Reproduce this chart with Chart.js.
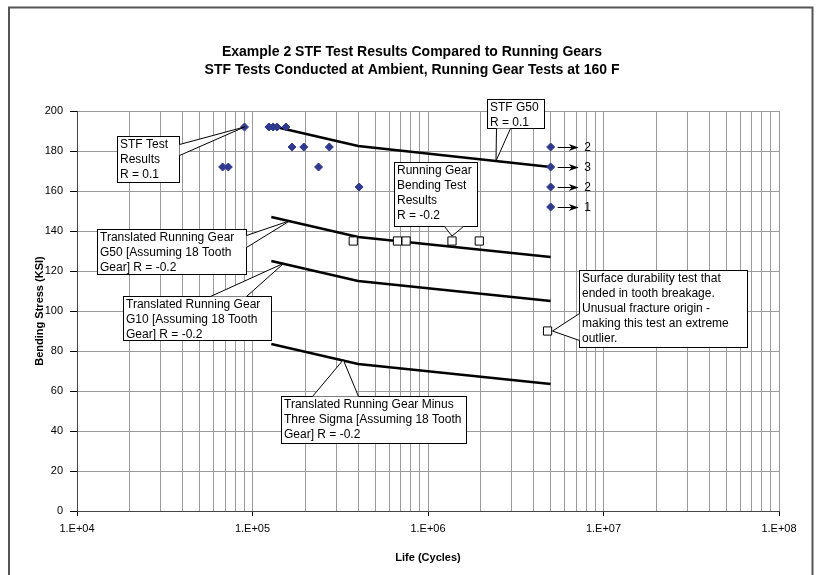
<!DOCTYPE html>
<html>
<head>
<meta charset="utf-8">
<script src="https://cdn.jsdelivr.net/npm/chart.js@4.4.1/dist/chart.umd.min.js"></script>
<style>
  html, body { margin: 0; padding: 0; background: #fff; }
</style>
</head>
<body>
<canvas id="chart" width="817" height="575"></canvas>
<script>
// STF test points (life in cycles, bending stress in KSI)
const stfCycles = [6.76e4, 7.28e4, 9.0e4, 1.24e5, 1.31e5, 1.38e5, 1.55e5, 1.68e5, 1.96e5, 2.38e5, 2.74e5, 4.05e5, 5e6, 5e6, 5e6, 5e6];
const stfStress = [172, 172, 192, 192, 192, 192, 192, 182, 182, 172, 182, 162, 182, 172, 162, 152];

// runouts at 5e6 cycles and how many tests sit on each point
const runoutStress = [182, 172, 162, 152];
const runoutCounts = ['2', '3', '2', '1'];
const runoutCycles = 5e6;

// running gear bending tests
const gearCycles = [3.75e5, 6.7e5, 7.5e5, 1.37e6, 1.96e6, 4.8e6];
const gearStress = [135, 135, 135, 135, 135, 90];

// curves
const stfG50Cycles = [1.36e5, 4e5, 5e6];
const stfG50Stress = [192, 182.5, 172];
const curveCycles = [1.28e5, 4e5, 5e6];
const gearG50Stress = [147, 137, 127];
const gearG10Stress = [125, 115, 105];
const gearMinus3SigmaStress = [83.5, 73.5, 63.5];

// axes
const xDecades = [1e4, 1e5, 1e6, 1e7, 1e8];
const xTickLabels = ['1.E+04', '1.E+05', '1.E+06', '1.E+07', '1.E+08'];
const yTicks = [0, 20, 40, 60, 80, 100, 120, 140, 160, 180, 200];

const titleLines = [
  'Example 2 STF Test Results Compared to Running Gears',
  'STF Tests Conducted at Ambient, Running Gear Tests at 160 F'
];

// callout boxes: box [left, top, width, height], wedge base points, target in data units
const callouts = [
  { lines: ['STF Test', 'Results', 'R = 0.1'], box: [117, 136, 62, 46],
    base: [[179, 144], [179, 155]], target: [9.0e4, 192], off: [0, 0] },
  { lines: ['STF G50', 'R = 0.1'], box: [487, 99, 57, 29],
    base: [[496, 128], [510, 128]], target: [2.44e6, 175], off: [0, 0] },
  { lines: ['Running Gear', 'Bending Test', 'Results', 'R = -0.2'], box: [394, 162, 83, 64],
    base: [[444, 226], [463, 226]], target: [1.37e6, 135], off: [0, -5] },
  { lines: ['Translated Running Gear', 'G50 [Assuming 18 Tooth', 'Gear] R = -0.2'], box: [97, 229, 149, 45],
    base: [[246, 235], [246, 247]], target: [1.64e5, 145.2], off: [0, 0] },
  { lines: ['Translated Running Gear', 'G10 [Assuming 18 Tooth', 'Gear] R = -0.2'], box: [123, 296, 148, 44],
    base: [[210, 296], [246, 296]], target: [1.51e5, 123.9], off: [0, 0] },
  { lines: ['Translated Running Gear Minus', 'Three Sigma [Assuming 18 Tooth', 'Gear] R = -0.2'], box: [281, 396, 185, 47],
    base: [[312, 396], [358, 396]], target: [3.29e5, 75.6], off: [0, 0] },
  { lines: ['Surface durability test that', 'ended in tooth breakage.', 'Unusual fracture origin -', 'making this test an extreme', 'outlier.'],
    box: [579, 270, 168, 77], base: [[579, 313], [579, 340]], target: [4.8e6, 90], off: [5, 0] }
];

const FONT = '"Liberation Sans", Arial, sans-serif';

function pts(xs, ys) {
  return xs.map((x, i) => ({ x: x, y: ys[i] }));
}

// grid positions for the log axis: 1..9 times each decade
const xGrid = [];
xDecades.forEach((d, i) => {
  if (i === xDecades.length - 1) { xGrid.push(d); return; }
  for (let m = 1; m < 10; m++) xGrid.push(d * m);
});

const extras = {
  id: 'extras',
  beforeDraw(chart) {
    const c = chart.ctx;
    c.save();
    c.fillStyle = '#fff';
    c.fillRect(0, 0, chart.width, chart.height);
    c.restore();
  },
  afterDatasetsDraw(chart) {
    const c = chart.ctx;
    const xs = chart.scales.x, ys = chart.scales.y;
    c.save();

    // runout arrows with counts
    c.strokeStyle = '#000';
    c.fillStyle = '#000';
    c.lineWidth = 1;
    c.font = '12px ' + FONT;
    c.textAlign = 'center';
    c.textBaseline = 'middle';
    runoutStress.forEach((s, i) => {
      const px = xs.getPixelForValue(runoutCycles);
      const py = ys.getPixelForValue(s);
      const x0 = px + 7, x1 = px + 28;
      c.beginPath();
      c.moveTo(x0, py + 0.5);
      c.lineTo(x1 - 4, py + 0.5);
      c.stroke();
      c.beginPath();
      c.moveTo(x1, py + 0.5);
      c.lineTo(x1 - 10, py - 3);
      c.lineTo(x1 - 7, py + 0.5);
      c.lineTo(x1 - 10, py + 4);
      c.closePath();
      c.fill();
      c.fillText(runoutCounts[i], px + 37, py + 1);
    });

    // callouts
    c.textAlign = 'left';
    callouts.forEach(co => {
      const [l, t, w, h] = co.box;
      const tx = xs.getPixelForValue(co.target[0]) + co.off[0];
      const ty = ys.getPixelForValue(co.target[1]) + co.off[1];
      c.fillStyle = '#fff';
      c.fillRect(l, t, w, h);
      c.strokeStyle = '#000';
      c.lineWidth = 1;
      c.strokeRect(l + 0.5, t + 0.5, w, h);
      c.beginPath();
      c.moveTo(co.base[0][0] + 0.5, co.base[0][1] + 0.5);
      c.lineTo(tx, ty);
      c.lineTo(co.base[1][0] + 0.5, co.base[1][1] + 0.5);
      c.closePath();
      c.fill();
      c.beginPath();
      c.moveTo(co.base[0][0] + 0.5, co.base[0][1] + 0.5);
      c.lineTo(tx, ty);
      c.lineTo(co.base[1][0] + 0.5, co.base[1][1] + 0.5);
      c.stroke();
      c.fillStyle = '#000';
      co.lines.forEach((line, i) => {
        c.fillText(line, l + 3, t + 9 + i * 14.8);
      });
    });
    c.restore();
  },
  afterDraw(chart) {
    const c = chart.ctx;
    c.save();
    c.strokeStyle = '#555';
    c.lineWidth = 2;
    c.strokeRect(9, 7.5, 803.5, 600);
    c.fillStyle = '#000';
    c.font = 'bold 14px ' + FONT;
    c.textAlign = 'center';
    c.textBaseline = 'middle';
    titleLines.forEach((t, i) => c.fillText(t, 412, 52 + i * 18));
    c.restore();
  }
};

new Chart(document.getElementById('chart'), {
  type: 'scatter',
  data: {
    datasets: [
      {
        label: 'STF Test Results',
        data: pts(stfCycles, stfStress),
        pointStyle: 'rectRot',
        pointRadius: 4,
        borderWidth: 1,
        backgroundColor: '#2F3A8F',
        borderColor: '#2F3A8F'
      },
      {
        label: 'Running Gear Bending Test Results',
        data: pts(gearCycles, gearStress),
        pointStyle: 'rect',
        pointRadius: 5.8,
        borderWidth: 1,
        backgroundColor: '#fff',
        borderColor: '#000'
      },
      {
        label: 'STF G50',
        data: pts(stfG50Cycles, stfG50Stress),
        showLine: true, pointRadius: 0, borderColor: '#000', borderWidth: 2.5
      },
      {
        label: 'Translated Running Gear G50',
        data: pts(curveCycles, gearG50Stress),
        showLine: true, pointRadius: 0, borderColor: '#000', borderWidth: 2.5
      },
      {
        label: 'Translated Running Gear G10',
        data: pts(curveCycles, gearG10Stress),
        showLine: true, pointRadius: 0, borderColor: '#000', borderWidth: 2.5
      },
      {
        label: 'Translated Running Gear Minus Three Sigma',
        data: pts(curveCycles, gearMinus3SigmaStress),
        showLine: true, pointRadius: 0, borderColor: '#000', borderWidth: 2.5
      }
    ]
  },
  options: {
    responsive: false,
    animation: false,
    devicePixelRatio: 1,
    layout: { padding: { left: 9, right: 38, top: 111, bottom: 0 } },
    plugins: {
      legend: { display: false },
      tooltip: { enabled: false }
    },
    scales: {
      x: {
        type: 'logarithmic',
        min: 1e4,
        max: 1e8,
        afterBuildTicks: s => { s.ticks = xGrid.map(v => ({ value: v })); },
        afterFit: s => { s.height = 64; },
        ticks: {
          autoSkip: false,
          maxRotation: 0,
          padding: 6,
          color: '#000',
          font: { family: FONT, size: 11 },
          callback: v => {
            const i = xDecades.indexOf(v);
            return i >= 0 ? xTickLabels[i] : '';
          }
        },
        grid: {
          color: '#9a9a9a',
          tickLength: 5,
          tickColor: ctx => (ctx.tick && xDecades.includes(ctx.tick.value)) ? '#000' : 'rgba(0,0,0,0)'
        },
        border: { color: '#444', width: 1 },
        title: {
          display: true,
          text: 'Life (Cycles)',
          color: '#000',
          font: { family: FONT, size: 11, weight: 'bold' },
          padding: { top: 0, bottom: 10 }
        }
      },
      y: {
        min: 0,
        max: 200,
        afterBuildTicks: s => { s.ticks = yTicks.map(v => ({ value: v })); },
        afterFit: s => { s.width = 68; },
        ticks: {
          padding: 7,
          color: '#000',
          font: { family: FONT, size: 11 }
        },
        grid: { color: '#9a9a9a', tickLength: 7, tickColor: '#000' },
        border: { color: '#444', width: 1 },
        title: {
          display: true,
          text: 'Bending Stress (KSI)',
          color: '#000',
          font: { family: FONT, size: 11, weight: 'bold' },
          padding: { top: 24, bottom: 0 }
        }
      }
    }
  },
  plugins: [extras]
});
</script>
</body>
</html>
